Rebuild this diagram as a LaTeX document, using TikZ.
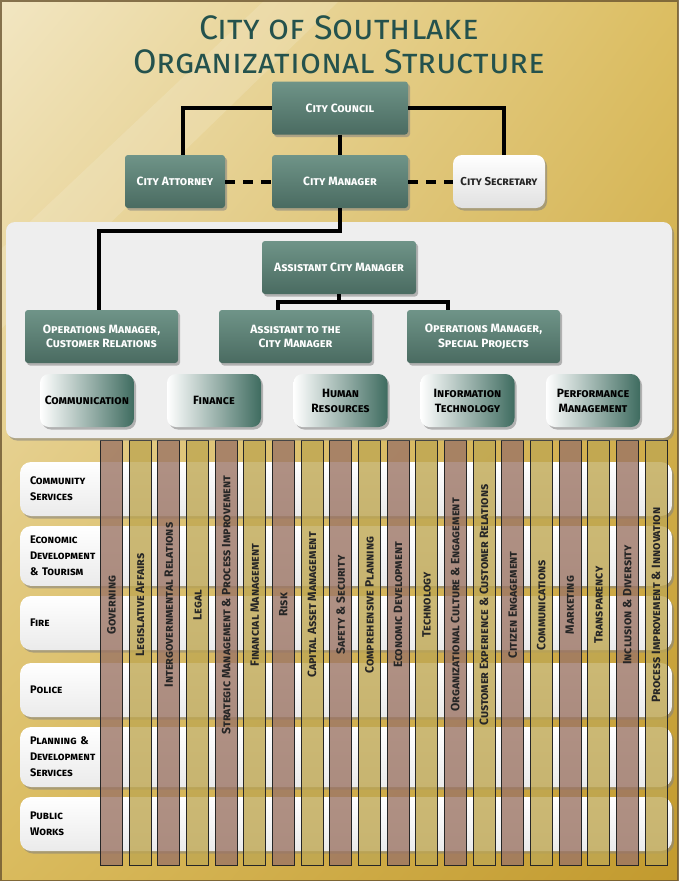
\documentclass[tikz,border=0pt]{standalone}
\usepackage{fontspec}
\setmainfont{Fira Sans}
\usepackage{xcolor}
\usetikzlibrary{shadows, shadings}

\definecolor{bgcream}{HTML}{F2E6C2}
\definecolor{bggold}{HTML}{DCBE62}
\definecolor{bgdark}{HTML}{C29A2E}
\definecolor{bgframe}{HTML}{6B5530}
\definecolor{teallight}{HTML}{6F9488}
\definecolor{tealdark}{HTML}{4A6B61}
\definecolor{deptteal}{HTML}{3F6C60}
\definecolor{titleteal}{HTML}{24524D}
\definecolor{panelgray}{HTML}{EEEEEE}
\definecolor{colbrown}{HTML}{9C7565}
\definecolor{colgold}{HTML}{BFA752}

\tikzset{
  smallcap/.style 2 args={font=\bfseries\scshape\fontsize{#1}{#2}\selectfont},
  boxshadow/.style={drop shadow={shadow xshift=2pt, shadow yshift=-2.5pt, opacity=.55}},
  tealbox/.style={rounded corners=3pt, top color=teallight, bottom color=tealdark,
    text=white, smallcap={12}{14.5}, align=center, minimum height=53pt, inner sep=2pt, boxshadow},
  secbox/.style={rounded corners=9pt, top color=white, bottom color=black!12,
    text=black!85, smallcap={11.5}{14}, align=center, minimum height=53pt, inner sep=2pt, boxshadow},
  deptbox/.style={rounded corners=9pt, left color=white, middle color=white!75!deptteal,
    right color=deptteal, text=black, smallcap={12}{15}, align=center,
    minimum width=94pt, minimum height=53pt, inner sep=2pt, boxshadow},
  rowbox/.style={rounded corners=11pt, top color=white, bottom color=black!8,
    text=black, smallcap={11}{16}, align=left, minimum width=652pt, text width=632pt,
    minimum height=54pt, inner sep=10pt, boxshadow},
  colbar/.style={draw=black!85, line width=.7pt, fill opacity=.8,
    minimum width=22pt, minimum height=425pt, inner sep=0pt},
  coltext/.style={text=black!85, smallcap={12}{14}, inner sep=0pt},
  conn/.style={line width=4pt},
  dashconn/.style={line width=4pt, dash pattern=on 10pt off 8pt}
}

\begin{document}
\begin{tikzpicture}[x=1pt, y=-1pt]
\useasboundingbox (0,0) rectangle (678,881);
\shade[upper left=bgcream, upper right=bggold, lower left=bggold!90!bgdark, lower right=bgdark]
  (0,0) rectangle (678,881);
\fill[white, opacity=.14] (0,250) -- (265,0) -- (340,0) -- (0,330) -- cycle;
\draw[bgframe, line width=3pt, opacity=.8] (0,0) rectangle (678,881);

\node[titleteal, font=\scshape\fontsize{34}{34}\selectfont, align=center] (title) at (339,45)
  {City of Southlake\\Organizational Structure};

% departments and focus areas
\foreach \lbl [count=\i from 0] in {{Community\\Services}, {Economic\\Development\\\& Tourism},
  Fire, Police, {Planning \&\\Development\\Services}, {Public\\Works}}
  \node[rowbox] (row\i) at (346,489+67*\i) {\lbl};

\foreach \lbl [count=\i] in {Governing, Legislative Affairs, Intergovernmental Relations, Legal,
  Strategic Management \& Process Improvement, Financial Management, Risk,
  Capital Asset Management, Safety \& Security, Comprehensive Planning,
  Economic Development, Technology, Organizational Culture \& Engagement,
  Customer Experience \& Customer Relations, Citizen Engagement, Communications,
  Marketing, Transparency, Inclusion \& Diversity, Process Improvement \& Innovation}{
  \pgfmathsetmacro\cx{111.5+28.65*(\i-1)}
  \ifodd\i\def\cc{colbrown}\else\def\cc{colgold}\fi
  \node[colbar, fill=\cc] (col\i) at (\cx,652.5) {};
  \node[coltext, rotate=90] (lab\i) at (\cx,605) {\lbl};
}

\fill[panelgray, rounded corners=9pt, boxshadow] (6,222) rectangle (672,438);

\node[tealbox, minimum width=136pt] (council) at (340,108) {City Council};
\node[tealbox, minimum width=100pt] (attorney) at (175,181.5) {City Attorney};
\node[tealbox, minimum width=136pt] (manager) at (340,181.5) {City Manager};
\node[secbox, minimum width=92pt] (secretary) at (499,181.5) {City Secretary};

\node[tealbox, minimum width=154pt] (acm) at (339,267.5) {Assistant City Manager};
\node[tealbox, minimum width=153pt] (opscr) at (101.5,336.5) {Operations Manager,\\Customer Relations};
\node[tealbox, minimum width=153pt] (asstcm) at (295.5,336.5) {Assistant to the\\City Manager};
\node[tealbox, minimum width=153pt] (opssp) at (483.5,336.5) {Operations Manager,\\Special Projects};

\node[deptbox] (comm) at (87,400.5) {Communication};
\node[deptbox] (fin) at (214,400.5) {Finance};
\node[deptbox] (hr) at (340.5,400.5) {Human\\Resources};
\node[deptbox] (it) at (467.5,400.5) {Information\\Technology};
\node[deptbox] (perf) at (593,400.5) {Performance\\Management};

\coordinate (cmsplit) at (340,231);
\coordinate (acmsplit) at (339,302);
\draw[conn] (council.west) -| ([xshift=8pt]attorney.north);
\draw[conn] (council.east) -| ([xshift=5pt]secretary.north);
\draw[conn] (council.south) -- (manager.north);
\draw[dashconn] (attorney.east) -- (manager.west);
\draw[dashconn] (manager.east) -- (secretary.west);
\draw[conn] (manager.south) -- (cmsplit) -| ([xshift=-3pt]opscr.north);
\draw[conn] (acm.south) -- (acmsplit);
\draw[conn] ([xshift=-17.5pt]asstcm.north) |- (acmsplit);
\draw[conn] ([xshift=-35.5pt]opssp.north) |- (acmsplit);
\end{tikzpicture}
\end{document}
